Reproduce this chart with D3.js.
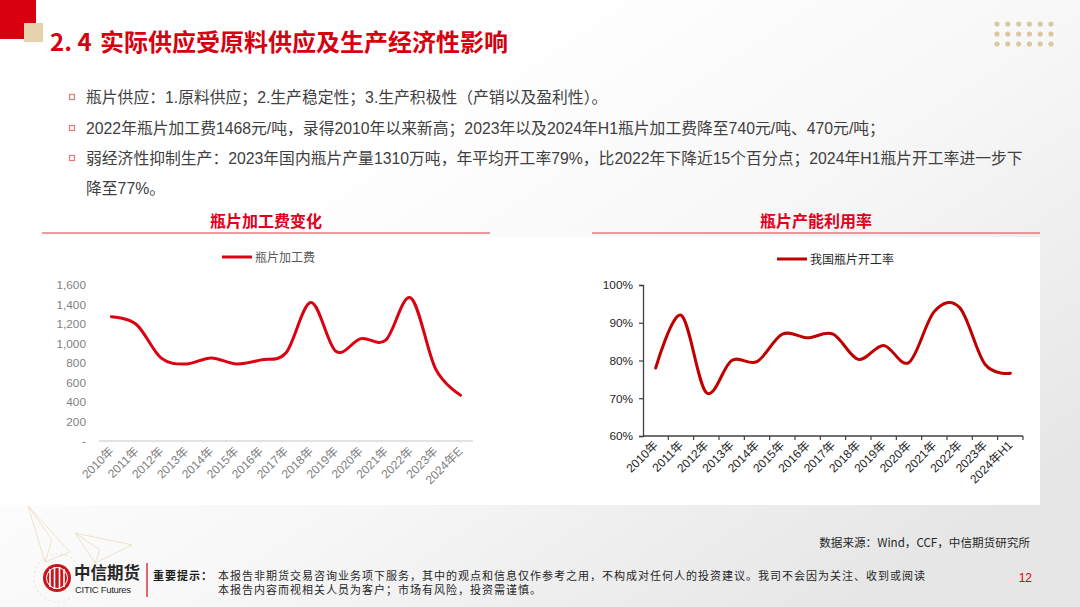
<!DOCTYPE html>
<html>
<head>
<meta charset="utf-8">
<script src="https://cdn.jsdelivr.net/npm/d3@7"></script>
<style>
  html, body { margin: 0; padding: 0; background: #fff; }
  svg { display: block; }
  text { font-family: "Liberation Sans", "Noto Sans CJK SC", sans-serif; }
</style>
</head>
<body>
<div id="slide"></div>
<script>
// chart data
const years = ["2010年", "2011年", "2012年", "2013年", "2014年", "2015年", "2016年",
    "2017年", "2018年", "2019年", "2020年", "2021年", "2022年", "2023年"]
const feeCats = [...years, "2024年E"]
const feeValues = [1275, 1195, 850, 790, 852, 790, 832, 905, 1420, 920, 1050, 1035, 1468, 740, 470]
const feeTicks = [0, 200, 400, 600, 800, 1000, 1200, 1400, 1600]

const rateCats = [...years, "2024年H1"]
const rateValues = [78, 92, 71.5, 80, 79.7, 87, 86, 87, 80.3, 84, 79.5, 93, 94, 79, 76.6]
const rateTicks = [60, 70, 80, 90, 100]

const bullets = [
    "瓶片供应：1.原料供应；2.生产稳定性；3.生产积极性（产销以及盈利性）。",
    "2022年瓶片加工费1468元/吨，录得2010年以来新高；2023年以及2024年H1瓶片加工费降至740元/吨、470元/吨；",
    "弱经济性抑制生产：2023年国内瓶片产量1310万吨，年平均开工率79%，比2022年下降近15个百分点；2024年H1瓶片开工率进一步下"
]

const width = 1080, height = 607
const red = "#d7000f"

const svg = d3.select("#slide")
    .append("svg")
    .attr("width", width)
    .attr("height", height)

// background
const defs = svg.append("defs")
const bg = defs.append("linearGradient")
    .attr("id", "bg")
    .attr("x1", "0.35").attr("y1", "0.2")
    .attr("x2", "1").attr("y2", "0.75")
bg.append("stop").attr("offset", "0").attr("stop-color", "#ffffff")
bg.append("stop").attr("offset", "0.45").attr("stop-color", "#f7f7f7")
bg.append("stop").attr("offset", "1").attr("stop-color", "#e6e6e6")

svg.append("rect").attr("width", width).attr("height", height).attr("fill", "url(#bg)")
svg.append("rect")
    .attr("x", 0).attr("y", 237)
    .attr("width", 1040).attr("height", 268)
    .attr("fill", "#ffffff")

// corner decoration
svg.append("rect").attr("x", 0).attr("y", 0).attr("width", 36).attr("height", 39).attr("fill", red)
svg.append("rect").attr("x", 24).attr("y", 23).attr("width", 19).attr("height", 19).attr("fill", "#e6d3ad")

const dotRows = d3.range(3), dotCols = d3.range(6)
svg.append("g")
    .selectAll("circle")
    .data(dotRows.flatMap(r => dotCols.map(c => [c, r])))
    .join("circle")
    .attr("cx", d => 997 + d[0] * 10.8)
    .attr("cy", d => 24 + d[1] * 10)
    .attr("r", 2.6)
    .attr("fill", "#dcc7a2")

// title
const title = svg.append("text")
    .attr("y", 51)
    .attr("font-size", 24)
    .attr("font-weight", 700)
    .attr("fill", red)
    .style("font-family", "'Noto Sans CJK SC', sans-serif")
title.append("tspan").attr("x", 50).text("2. 4")
title.append("tspan").attr("x", 100).text("实际供应受原料供应及生产经济性影响")

// bullets
const bulletY = [97, 128, 158]
bulletY.forEach((y, i) => {
    svg.append("rect")
        .attr("x", 69.5).attr("y", y - 2.5)
        .attr("width", 5).attr("height", 5)
        .attr("fill", "none")
        .attr("stroke", "#e5787f")
        .attr("stroke-width", 1.2)
    svg.append("text")
        .attr("x", 86).attr("y", y + 5.5)
        .attr("font-size", 15.8)
        .attr("fill", "#404040")
        .text(bullets[i])
})
svg.append("text")
    .attr("x", 86).attr("y", 193.5)
    .attr("font-size", 15.8)
    .attr("fill", "#404040")
    .text("降至77%。")

// chart headers
const headers = [
    {title: "瓶片加工费变化", x0: 42, x1: 490},
    {title: "瓶片产能利用率", x0: 592, x1: 1040}
]
headers.forEach(h => {
    svg.append("text")
        .attr("x", (h.x0 + h.x1) / 2).attr("y", 227)
        .attr("text-anchor", "middle")
        .attr("font-size", 16)
        .attr("font-weight", 700)
        .attr("fill", "#e0001b")
        .style("font-family", "'Noto Sans CJK SC', sans-serif")
        .text(h.title)
    svg.append("line")
        .attr("x1", h.x0).attr("x2", h.x1)
        .attr("y1", 233).attr("y2", 233)
        .attr("stroke", "#dc3c3c")
        .attr("stroke-width", 1.2)
})

// ---------- left chart: processing fee ----------
const x1 = d3.scaleBand().domain(feeCats).range([99, 473])
const y1 = d3.scaleLinear().domain([0, 1600]).range([441, 285])

const left = svg.append("g")
left.append("line")
    .attr("x1", 99).attr("x2", 473)
    .attr("y1", y1(0)).attr("y2", y1(0))
    .attr("stroke", "#d9d9d9")
    .attr("stroke-width", 1.5)

const yAxis1 = left.append("g")
    .attr("transform", "translate(86,0)")
    .call(d3.axisLeft(y1).tickValues(feeTicks).tickSize(0)
        .tickFormat(d => d === 0 ? "-" : d3.format(",")(d)))
yAxis1.select(".domain").remove()
yAxis1.selectAll("text")
    .attr("x", 0)
    .attr("font-size", 11.8)
    .attr("fill", "#7f7f7f")
    .style("font-family", "'Liberation Sans', sans-serif")

left.append("g")
    .selectAll("text")
    .data(feeCats)
    .join("text")
    .attr("transform", d => `translate(${x1(d) + x1.bandwidth() / 2 + 3},${452}) rotate(-45)`)
    .attr("text-anchor", "end")
    .attr("font-size", 12)
    .attr("fill", "#7f7f7f")
    .text(d => d)

left.append("path")
    .datum(feeValues)
    .attr("fill", "none")
    .attr("stroke", "#dc0010")
    .attr("stroke-width", 3)
    .attr("stroke-linecap", "round")
    .attr("d", d3.line()
        .x((d, i) => x1(feeCats[i]) + x1.bandwidth() / 2)
        .y(d => y1(d))
        .curve(d3.curveCardinal))

left.append("line")
    .attr("x1", 222).attr("x2", 252).attr("y1", 257).attr("y2", 257)
    .attr("stroke", "#dc0010").attr("stroke-width", 3)
left.append("text")
    .attr("x", 255).attr("y", 261.5)
    .attr("font-size", 12)
    .attr("fill", "#595959")
    .text("瓶片加工费")

// ---------- right chart: utilisation rate ----------
const x2 = d3.scaleBand().domain(rateCats).range([643, 1023])
const y2 = d3.scaleLinear().domain([60, 100]).range([436, 285])

const right = svg.append("g")
const yAxis2 = right.append("g")
    .attr("transform", "translate(643,0)")
    .call(d3.axisLeft(y2).tickValues(rateTicks).tickSize(4).tickPadding(6)
        .tickFormat(d => d + "%"))
yAxis2.select(".domain").attr("stroke", "#404040").attr("stroke-width", 1.3)
yAxis2.selectAll(".tick line").attr("stroke", "#404040").attr("stroke-width", 1.2)
yAxis2.selectAll("text")
    .attr("font-size", 11.8)
    .attr("fill", "#262626")
    .style("font-family", "'Liberation Sans', sans-serif")

right.append("line")
    .attr("x1", 643).attr("x2", 1023)
    .attr("y1", y2(60)).attr("y2", y2(60))
    .attr("stroke", "#404040")
    .attr("stroke-width", 1.3)
right.append("g")
    .selectAll("line")
    .data(d3.range(1, rateCats.length + 1))
    .join("line")
    .attr("x1", i => 643 + i * x2.step()).attr("x2", i => 643 + i * x2.step())
    .attr("y1", y2(60)).attr("y2", y2(60) + 4)
    .attr("stroke", "#404040")
    .attr("stroke-width", 1.2)

right.append("g")
    .selectAll("text")
    .data(rateCats)
    .join("text")
    .attr("transform", d => `translate(${x2(d) + x2.bandwidth() / 2 + 3},${446}) rotate(-45)`)
    .attr("text-anchor", "end")
    .attr("font-size", 12)
    .attr("fill", "#262626")
    .text(d => d)

right.append("path")
    .datum(rateValues)
    .attr("fill", "none")
    .attr("stroke", "#c00000")
    .attr("stroke-width", 3)
    .attr("stroke-linecap", "round")
    .attr("d", d3.line()
        .x((d, i) => x2(rateCats[i]) + x2.bandwidth() / 2)
        .y(d => y2(d))
        .curve(d3.curveCardinal))

right.append("line")
    .attr("x1", 777).attr("x2", 807).attr("y1", 259).attr("y2", 259)
    .attr("stroke", "#c00000").attr("stroke-width", 3)
right.append("text")
    .attr("x", 810).attr("y", 263.5)
    .attr("font-size", 12)
    .attr("fill", "#262626")
    .text("我国瓶片开工率")

// ---------- footer ----------
const deco = svg.append("g")
    .attr("fill", "none")
    .attr("stroke", "#eee2cc")
    .attr("stroke-width", 1)
deco.append("path").attr("d", "M28,506 L70,552 L45,562 Z M28,506 L52,540 L45,562")
deco.append("path").attr("d", "M75,533 L132,545 L95,563 Z M75,533 L100,550 L95,563")
deco.append("circle").attr("cx", 58).attr("cy", 578).attr("r", 24)
    .attr("stroke-dasharray", "2,3")

svg.append("text")
    .attr("x", 1030).attr("y", 547)
    .attr("text-anchor", "end")
    .attr("font-size", 11.6)
    .attr("fill", "#262626")
    .style("font-family", "'Noto Sans CJK SC', sans-serif")
    .text("数据来源：Wind，CCF，中信期货研究所")

// logo
const logo = svg.append("g").attr("transform", "translate(57,578)")
logo.append("circle").attr("r", 14).attr("fill", "#c8161d")
logo.append("path")
    .attr("d", "M-7,-9 L-7,9 M-2.5,-11 L-2.5,11 M2.5,-11 L2.5,11 M7,-9 L7,9")
    .attr("stroke", "#fff").attr("stroke-width", 1.6)
logo.append("circle").attr("r", 10.5).attr("fill", "none").attr("stroke", "#fff").attr("stroke-width", 1)

svg.append("text")
    .attr("x", 74).attr("y", 579)
    .attr("font-size", 16.5)
    .attr("font-weight", 700)
    .attr("fill", "#262626")
    .style("font-family", "'Noto Sans CJK SC', sans-serif")
    .text("中信期货")
svg.append("text")
    .attr("x", 75).attr("y", 593)
    .attr("font-size", 9.5)
    .attr("fill", "#262626")
    .attr("letter-spacing", -0.3)
    .text("CITIC Futures")
svg.append("line")
    .attr("x1", 147).attr("x2", 147).attr("y1", 563).attr("y2", 597)
    .attr("stroke", red).attr("stroke-width", 1.2)

svg.append("text")
    .attr("x", 153).attr("y", 580)
    .attr("font-size", 11)
    .attr("font-weight", 700)
    .attr("letter-spacing", 1)
    .attr("fill", "#1a1a1a")
    .style("font-family", "'Noto Sans CJK SC', sans-serif")
    .text("重要提示：")
const disclaimer = [
    "本报告非期货交易咨询业务项下服务，其中的观点和信息仅作参考之用，不构成对任何人的投资建议。我司不会因为关注、收到或阅读",
    "本报告内容而视相关人员为客户；市场有风险，投资需谨慎。"
]
disclaimer.forEach((t, i) => {
    svg.append("text")
        .attr("x", 218).attr("y", 580 + i * 14)
        .attr("font-size", 11)
        .attr("letter-spacing", 1)
        .attr("fill", "#262626")
        .style("font-family", "'Noto Sans CJK SC', sans-serif")
        .text(t)
})

svg.append("text")
    .attr("x", 1032).attr("y", 582)
    .attr("text-anchor", "end")
    .attr("font-size", 12)
    .attr("fill", red)
    .text("12")
</script>
</body>
</html>
